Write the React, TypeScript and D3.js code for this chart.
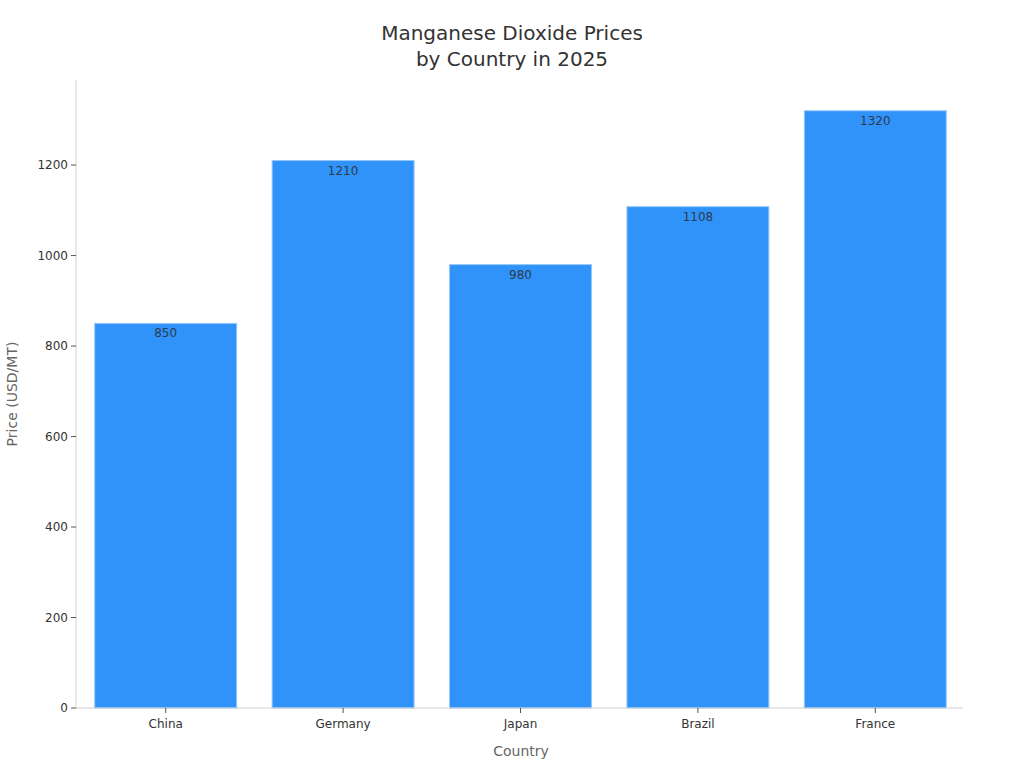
import React from "react";
import * as d3 from "d3";

const categories = ["China", "Germany", "Japan", "Brazil", "France"];
const prices = [850, 1210, 980, 1108, 1320];
const yTicks = [0, 200, 400, 600, 800, 1000, 1200];
const titleLines = ["Manganese Dioxide Prices", "by Country in 2025"];

const W = 1024;
const H = 768;
const M = { left: 76, right: 963, top: 80, bottom: 708 };
const FONT = "DejaVu Sans, sans-serif";

export default function App() {
  const x = d3
    .scaleBand<string>()
    .domain(categories)
    .range([M.left + 1, M.right + 1])
    .paddingInner(0.2)
    .paddingOuter(0.1);
  const y = d3.scaleLinear().domain([0, 1388]).range([M.bottom, M.top]);

  return (
    <svg
      width={W}
      height={H}
      style={{ position: "absolute", left: 0, top: 0, background: "#fff" }}
      fontFamily={FONT}
    >
      {titleLines.map((t, i) => (
        <text
          key={t}
          x={512}
          y={40 + i * 26}
          textAnchor="middle"
          fontSize={20}
          fill="#333"
        >
          {t}
        </text>
      ))}
      {/* y axis */}
      <line x1={M.left} x2={M.left} y1={M.top} y2={M.bottom} stroke="#d0d0d0" strokeWidth={1} />
      {yTicks.map((v) => (
        <g key={v} transform={`translate(0,${y(v)})`}>
          <line x1={M.left - 5} x2={M.left} stroke="#555" strokeWidth={1} />
          <text x={M.left - 8} dy="0.35em" textAnchor="end" fontSize={12} fill="#333">
            {v}
          </text>
        </g>
      ))}
      {/* bars */}
      {categories.map((c, i) => (
        <g key={c}>
          <rect
            x={x(c)!}
            y={y(prices[i])}
            width={x.bandwidth()}
            height={y(0) - y(prices[i])}
            fill="#2f93fa"
            stroke="#93c7fc"
            strokeWidth={1}
          />
          <text
            x={x(c)! + x.bandwidth() / 2}
            y={y(prices[i]) + 14}
            textAnchor="middle"
            fontSize={12}
            fill="#2d3b4c"
          >
            {prices[i]}
          </text>
        </g>
      ))}
      {/* x axis */}
      <line x1={M.left} x2={M.right} y1={M.bottom} y2={M.bottom} stroke="#d0d0d0" strokeWidth={1} />
      {categories.map((c) => (
        <g key={c} transform={`translate(${x(c)! + x.bandwidth() / 2},${M.bottom})`}>
          <line y1={0} y2={5} stroke="#555" strokeWidth={1} />
          <text y={20} textAnchor="middle" fontSize={12} fill="#333">
            {c}
          </text>
        </g>
      ))}
      <text x={521} y={756} textAnchor="middle" fontSize={14} fill="#666">
        Country
      </text>
      <text
        transform={`translate(17,${(M.top + M.bottom) / 2}) rotate(-90)`}
        textAnchor="middle"
        fontSize={14}
        fill="#666"
      >
        Price (USD/MT)
      </text>
    </svg>
  );
}
